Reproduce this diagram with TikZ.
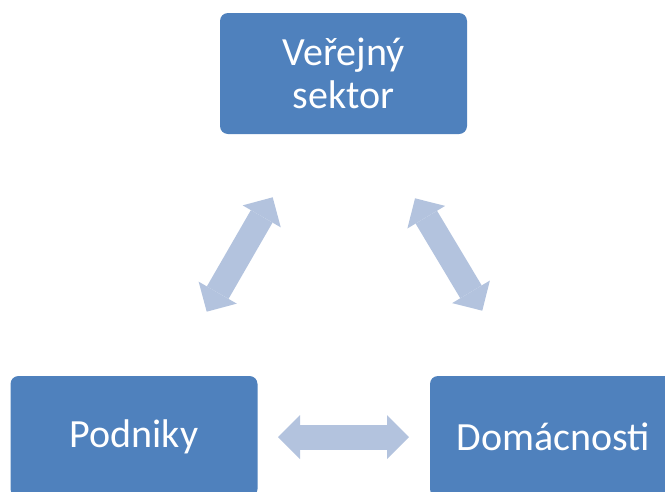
\documentclass[tikz,border=0pt]{standalone}
\usepackage{fontspec}
\setmainfont{Carlito}
\usetikzlibrary{arrows.meta}
\definecolor{boxblue}{RGB}{79,129,189}
\definecolor{arrowblue}{RGB}{179,195,222}
\begin{document}
\begin{tikzpicture}[x=1pt,y=-1pt,
  box/.style={fill=boxblue, draw=none, rounded corners=8pt,
    minimum width=247pt, minimum height=121pt, inner sep=0pt,
    text=white, align=center, font=\fontsize{40}{43}\selectfont},
  fatarrow/.style={draw=arrowblue, line width=25pt, line cap=butt,
    {Triangle[width=44pt,length=22pt,line width=0pt]}-{Triangle[width=44pt,length=22pt,line width=0pt]}}
]
\useasboundingbox (0,0) rectangle (665,491);
\node[box] (ver) at (343.5,73.5) {Veřejný\\sektor};
\node[box] (pod) at (134,436.5) {Podniky};
\node[box] (dom) at (553.5,436.5) {Domácnosti};
\coordinate (hL) at (278,437);
\coordinate (hR) at (409,437);
\coordinate (lB) at (206.7,311.7);
\coordinate (lT) at (272.7,197.3);
\coordinate (rT) at (415,198.3);
\coordinate (rB) at (482.3,310.7);
\draw[fatarrow] (hL) -- (hR);
\draw[fatarrow] (lB) -- (lT);
\draw[fatarrow] (rT) -- (rB);
\end{tikzpicture}
\end{document}
